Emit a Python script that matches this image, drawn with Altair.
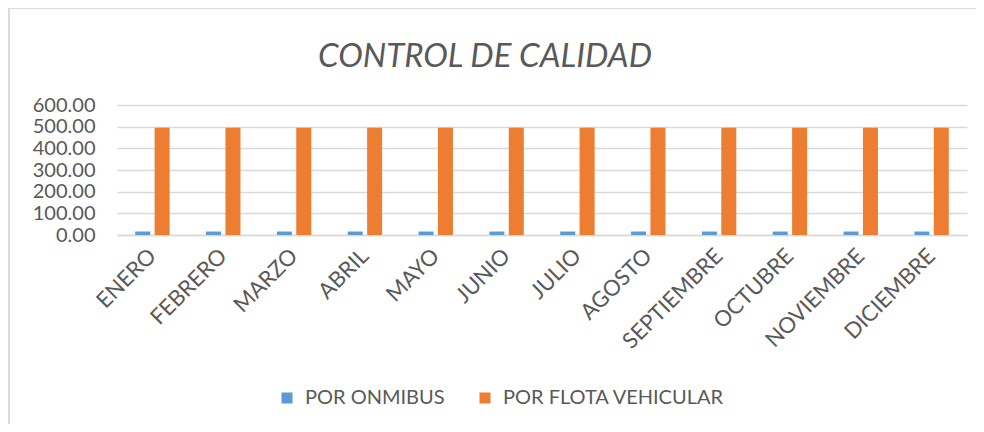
import altair as alt
import pandas as pd

months = ["ENERO", "FEBRERO", "MARZO", "ABRIL", "MAYO", "JUNIO", "JULIO",
          "AGOSTO", "SEPTIEMBRE", "OCTUBRE", "NOVIEMBRE", "DICIEMBRE"]
series = ["POR ONMIBUS", "POR FLOTA VEHICULAR"]
onmibus = [16, 16, 16, 16, 16, 16, 16, 16, 16, 16, 16, 16]
flota = [495, 495, 495, 495, 495, 495, 495, 495, 495, 495, 495, 495]
colors = ["#5B9BD5", "#ED7D31"]

rows = []
for m, a, b in zip(months, onmibus, flota):
    rows.append({"mes": m, "serie": series[0], "valor": a})
    rows.append({"mes": m, "serie": series[1], "valor": b})
df = pd.DataFrame(rows)

FONT = "Lato"
TXT = "#595959"
W, H = 850, 130

bars = alt.Chart(df).mark_bar(size=15).encode(
    x=alt.X("mes:N", sort=months, title=None,
            scale=alt.Scale(paddingInner=0.48, paddingOuter=0.24),
            axis=alt.Axis(labelAngle=-45, labelFontSize=22, labelFont=FONT,
                          labelColor=TXT, ticks=False, domainColor="#d9d9d9",
                          domainWidth=1.5, labelPadding=17, labelAlign="right",
                          labelBaseline="middle", labelLimit=0)),
    xOffset=alt.XOffset("serie:N", sort=series, scale=alt.Scale(paddingInner=0.1)),
    y=alt.Y("valor:Q", title=None,
            scale=alt.Scale(domain=[0, 600], nice=False),
            axis=alt.Axis(values=[0, 100, 200, 300, 400, 500, 600], format=".2f",
                          labelFontSize=20, labelFont=FONT, labelColor=TXT,
                          ticks=False, domain=False, gridColor="#d9d9d9",
                          gridWidth=1.5, labelPadding=22)),
    color=alt.Color("serie:N", sort=series,
                    scale=alt.Scale(domain=series, range=colors),
                    legend=alt.Legend(title=None, orient="none", legendX=160,
                                      legendY=283, direction="horizontal",
                                      symbolType="square", symbolSize=121,
                                      symbolStrokeWidth=0, labelFontSize=20,
                                      labelFont=FONT, labelColor=TXT,
                                      labelOffset=8, columnPadding=30,
                                      labelLimit=0)),
)

frame_top = alt.Chart(df).mark_rule(color="#d9d9d9", strokeWidth=1.5).encode(
    x=alt.value(-109), x2=alt.value(900), y=alt.value(-97.5))
frame_left = alt.Chart(df).mark_rule(color="#d9d9d9", strokeWidth=1.5).encode(
    x=alt.value(-108.5), y=alt.value(-97), y2=alt.value(400))

chart = alt.layer(bars, frame_top, frame_left).properties(
    width=W, height=H,
    autosize=alt.AutoSizeParams(type="none"),
    padding={"left": 109, "top": 97, "right": 9, "bottom": 189},
    title=alt.TitleParams("CONTROL DE CALIDAD", fontSize=33, font=FONT,
                          fontStyle="italic", fontWeight="normal", color=TXT,
                          anchor="middle", frame="group", dx=-57, offset=-67),
    background="white",
).configure_view(stroke=None)

chart.save("out.html", embed_options={"renderer": "svg", "actions": False})
